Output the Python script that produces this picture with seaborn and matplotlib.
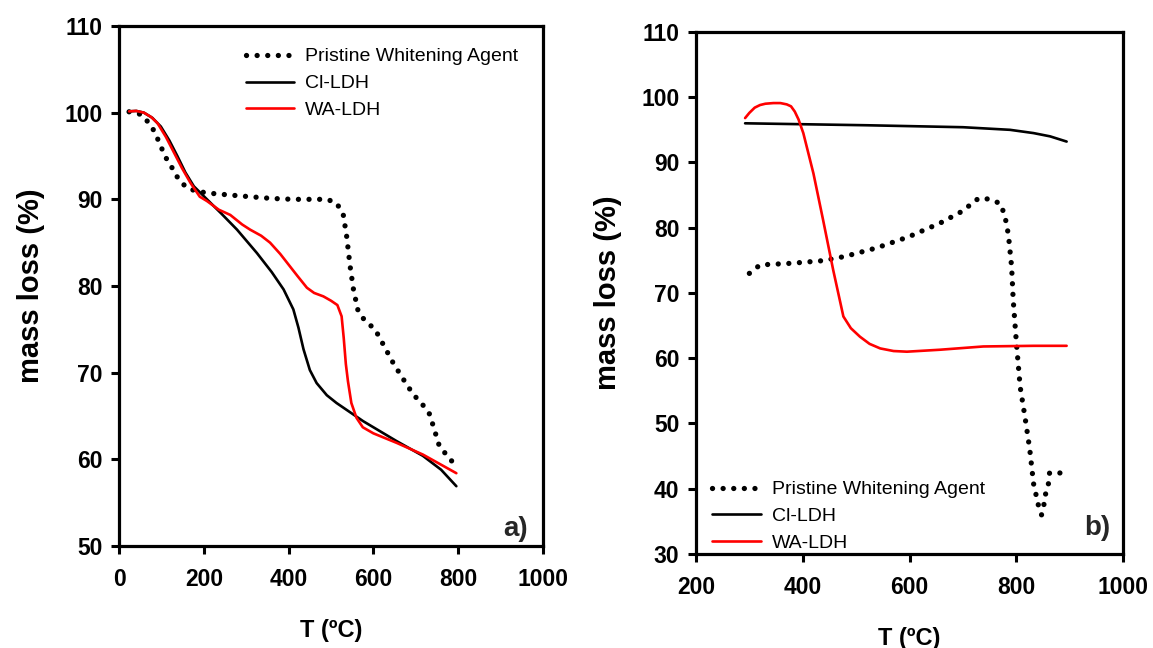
import numpy as np
import matplotlib
matplotlib.use("Agg")
import matplotlib.pyplot as plt
from matplotlib import font_manager
import seaborn as sns

# panel a) data
a_pristine_T = [23, 51, 74, 86, 98, 110, 125, 140, 160, 185, 215, 260, 309, 360, 411, 460, 490, 513, 529, 537, 545, 553, 564, 580, 604, 625, 647, 670, 694, 715, 733, 756, 792]
a_pristine_m = [100.1, 99.8, 98.6, 97.5, 96.1, 94.8, 93.6, 92.3, 91.3, 90.9, 90.7, 90.5, 90.3, 90.1, 90.0, 90.0, 90.0, 89.6, 88.2, 85.7, 82.3, 79.6, 77.1, 76.0, 75.0, 73.1, 71.1, 69.3, 67.5, 66.4, 65.2, 61.5, 59.4]
a_cl_T = [23, 40, 58, 78, 98, 118, 137, 156, 176, 207, 240, 278, 325, 360, 388, 411, 423, 435, 450, 466, 490, 513, 576, 655, 717, 760, 796]
a_cl_m = [100.15, 100.2, 100.0, 99.4, 98.4, 96.8, 95.0, 93.1, 91.5, 90.0, 88.4, 86.5, 83.8, 81.6, 79.6, 77.3, 75.2, 72.7, 70.3, 68.8, 67.4, 66.5, 64.4, 62.1, 60.4, 58.8, 56.9]
a_wa_T = [23, 40, 58, 75, 90, 110, 129, 148, 168, 190, 207, 235, 262, 290, 309, 335, 356, 380, 396, 420, 443, 460, 482, 500, 515, 525, 530, 535, 540, 548, 560, 575, 600, 655, 717, 796]
a_wa_m = [100.15, 100.2, 100.0, 99.5, 98.8, 97.2, 95.4, 93.6, 91.9, 90.3, 89.8, 88.8, 88.2, 87.1, 86.5, 85.8, 85.0, 83.7, 82.7, 81.2, 79.8, 79.2, 78.8, 78.3, 77.8, 76.5, 74.0, 71.0, 69.0, 66.5, 64.8, 63.7, 63.0, 61.9, 60.55, 58.4]

# panel b) data
b_pristine_T = [300, 320, 379, 438, 479, 538, 598, 657, 698, 729, 747, 769, 778, 785, 791, 794, 800, 807, 816, 825, 832, 841, 847, 851, 854, 860, 862, 870, 890]
b_pristine_m = [73.0, 74.3, 74.55, 74.95, 75.6, 76.9, 78.6, 80.7, 82.5, 84.5, 84.4, 83.75, 82.0, 78.9, 74.0, 68.9, 62.3, 55.6, 51.0, 46.0, 40.8, 37.5, 36.0, 37.3, 39.0, 40.8, 42.4, 42.3, 42.5]
b_cl_T = [292, 520, 700, 788, 832, 863, 894]
b_cl_m = [96.0, 95.7, 95.4, 95.0, 94.5, 94.0, 93.2]
b_wa_T = [292, 300, 310, 320, 330, 345, 358, 370, 378, 385, 392, 401, 420, 438, 457, 476, 490, 507, 525, 545, 570, 595, 657, 738, 832, 894]
b_wa_m = [96.8, 97.6, 98.4, 98.8, 99.0, 99.1, 99.1, 98.9, 98.6, 97.8, 96.6, 94.5, 88.3, 81.2, 73.5, 66.4, 64.6, 63.3, 62.2, 61.5, 61.1, 61.0, 61.3, 61.8, 61.9, 61.9]

labels = ["Pristine Whitening Agent", "Cl-LDH", "WA-LDH"]

sns.set_style("ticks")

# pick the normal-width Liberation Sans files (not the Narrow ones)
reg_file, bold_file = None, None
for f in font_manager.fontManager.ttflist:
    if f.name == 'Liberation Sans' and 'Narrow' not in f.fname and f.style == 'normal':
        if f.weight in (700, 'bold'):
            bold_file = f.fname
        elif f.weight in (400, 'normal', 'regular'):
            reg_file = f.fname
plt.rcParams['font.family'] = ['Liberation Sans', 'DejaVu Sans']

def fp(size, bold=False):
    f = bold_file if bold else reg_file
    if f:
        return font_manager.FontProperties(fname=f, size=size)
    return font_manager.FontProperties(family=['Liberation Sans', 'DejaVu Sans'],
                                       weight='bold' if bold else 'normal', size=size)

fig = plt.figure(figsize=(11.53, 6.48), dpi=100)
ax1 = fig.add_axes([0.1035, 0.1574, 0.3672, 0.8025])
ax2 = fig.add_axes([0.6036, 0.1451, 0.3706, 0.8056])

dot_style = dict(linestyle=(0, (0.01, 2.0)), linewidth=3.8, dash_capstyle='round')


def draw(ax, pT, pm, cT, cm, wT, wm):
    sns.lineplot(x=pT, y=pm, ax=ax, color='black', label=labels[0], sort=False, **dot_style)
    sns.lineplot(x=cT, y=cm, ax=ax, color='black', label=labels[1], sort=False, linewidth=1.9)
    sns.lineplot(x=wT, y=wm, ax=ax, color='#ff0000', label=labels[2], sort=False, linewidth=1.9)
    for s in ax.spines.values():
        s.set_linewidth(2.3)
        s.set_visible(True)
        s.set_color('black')
    ax.tick_params(axis='both', direction='out', length=6, width=2.2, color='black')
    ax.tick_params(axis='x', pad=10)
    ax.tick_params(axis='y', pad=6)
    ax.set_xlabel("T (ºC)", fontproperties=fp(17, True), labelpad=20, color='black')
    ax.set_ylabel("mass loss (%)", fontproperties=fp(21, True), labelpad=14, color='black')


def style_ticks(ax):
    for t in ax.get_xticklabels() + ax.get_yticklabels():
        t.set_fontproperties(fp(16.5, True))
        t.set_color('black')


def legend(ax, **kw):
    leg = ax.legend(frameon=False, prop=fp(14), handlelength=2.5, handletextpad=0.55,
                    labelspacing=0.48, borderaxespad=0, **kw)
    for t in leg.get_texts():
        t.set_color('black')


draw(ax1, a_pristine_T, a_pristine_m, a_cl_T, a_cl_m, a_wa_T, a_wa_m)
ax1.set_xlim(0, 1000)
ax1.set_ylim(50, 110)
ax1.set_xticks([0, 200, 400, 600, 800, 1000])
ax1.set_yticks([50, 60, 70, 80, 90, 100, 110])
style_ticks(ax1)
legend(ax1, loc='upper left', bbox_to_anchor=(0.28, 0.973))
ax1.text(0.935, 0.033, "a)", transform=ax1.transAxes, fontproperties=fp(20, True),
         ha='center', va='center')

draw(ax2, b_pristine_T, b_pristine_m, b_cl_T, b_cl_m, b_wa_T, b_wa_m)
ax2.set_xlim(200, 1000)
ax2.set_ylim(30, 110)
ax2.set_xticks([200, 400, 600, 800, 1000])
ax2.set_yticks([30, 40, 50, 60, 70, 80, 90, 100, 110])
style_ticks(ax2)
legend(ax2, loc='lower left', bbox_to_anchor=(0.02, -0.0115))
ax2.text(0.94, 0.05, "b)", transform=ax2.transAxes, fontproperties=fp(20, True),
         ha='center', va='center')

fig.savefig("out.png", dpi=100)
